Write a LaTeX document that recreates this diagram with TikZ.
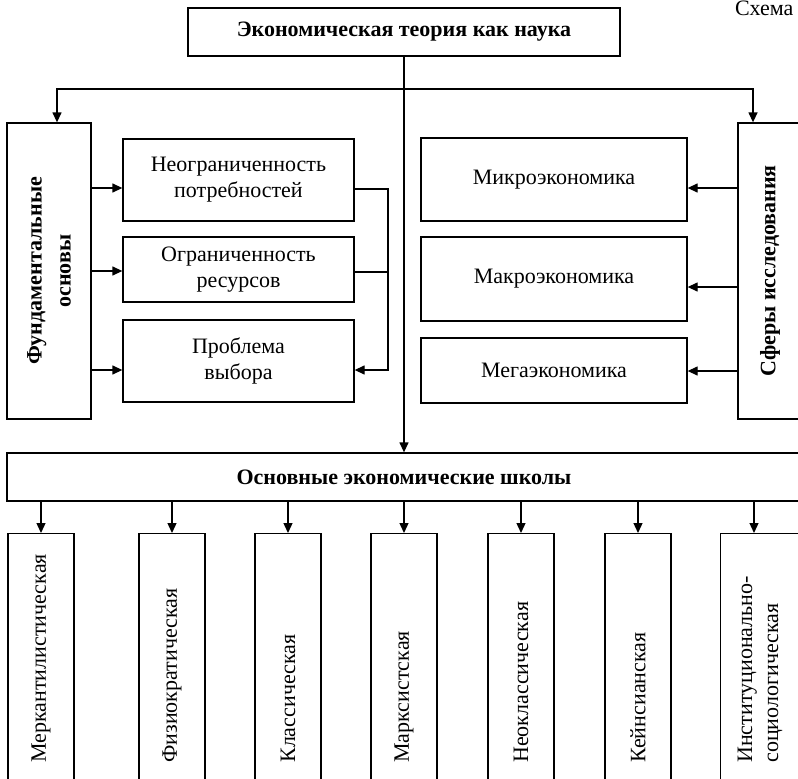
\documentclass[tikz,border=0pt]{standalone}
\usepackage{fontspec}
\setmainfont{Liberation Serif}
\usetikzlibrary{arrows.meta}

\begin{document}
\begin{tikzpicture}[x=1pt,y=-1pt,
  every node/.style={font=\fontsize{22}{26}\selectfont},
  box/.style={draw, line width=1.3pt, align=center, inner sep=0pt},
  bold/.style={font=\fontsize{22}{29}\selectfont\bfseries},
  school/.style={draw, line width=1.3pt, rotate=90, anchor=east, minimum height=66pt,
    text width=191pt, inner xsep=38pt, inner ysep=0pt, align=left},
  arr/.style={line width=1.3pt, -{Triangle[length=10pt,width=9pt]}}]
\path[use as bounding box, fill=white] (0,0) rectangle (798,779);
\clip (0,0) rectangle (798,779);

\node[anchor=base east] (cap) at (797,16) {Схема};
\node[box, bold, minimum width=432pt, minimum height=48pt] (title) at (404,32) {Экономическая теория как наука};

% fundamentals
\node[box, bold, rotate=90, minimum width=296pt, minimum height=84pt] (fund) at (49,271) {Фундаментальные\\основы};
\node[box, minimum width=231pt, minimum height=82pt] (need) at (238.5,180) {Неограниченность\\потребностей};
\node[box, minimum width=231pt, minimum height=65pt] (res) at (238.5,269.5) {Ограниченность\\ресурсов};
\node[box, minimum width=231pt, minimum height=82pt] (choice) at (238.5,361) {Проблема\\выбора};

% spheres
\node[box, bold, rotate=90, minimum width=296pt, minimum height=64pt] (sphere) at (770,271) {Сферы исследования};
\node[box, minimum width=266pt, minimum height=83pt] (micro) at (554,179.5) {Микроэкономика};
\node[box, minimum width=266pt, minimum height=84pt] (macro) at (554,279) {Макроэкономика};
\node[box, minimum width=266pt, minimum height=65pt] (mega) at (554,370.5) {Мегаэкономика};

\node[box, bold, minimum width=794pt, minimum height=48pt] (schools) at (404,477) {Основные экономические школы};

% schools
\node[school] (merc) at (41,533) {Меркантилистическая};
\node[school] (phys) at (172,533) {Физиократическая};
\node[school] (class) at (288,533) {Классическая};
\node[school] (marx) at (404,533) {Марксистская};
\node[school] (neo) at (521,533) {Неоклассическая};
\node[school] (keyn) at (638,533) {Кейнсианская};
\node[school, minimum height=79pt] (inst) at (760,533) {Институционально-\\социологическая};

\coordinate (split) at (404,89);
\draw[arr] (title.south) -- (schools.north);
\draw[arr] (split) -| ([xshift=8pt]fund.east);
\draw[arr] (split) -| ([xshift=-17pt]sphere.east);

\draw[arr] (fund.south |- 0,188) -- (need.west |- 0,188);
\draw[arr] (fund.south |- 0,271) -- (res.west |- 0,271);
\draw[arr] (fund.south |- 0,370) -- (choice.west |- 0,370);
\draw[arr] (need.east |- 0,189) -- (388,189) |- (choice.east |- 0,370);
\draw[line width=1.3pt] (res.east |- 0,272) -- (388,272);

\draw[arr] (sphere.north |- 0,188) -- (micro.east |- 0,188);
\draw[arr] (sphere.north |- 0,287) -- (macro.east |- 0,287);
\draw[arr] (sphere.north |- 0,371) -- (mega.east |- 0,371);

\draw[arr] (schools.south -| merc.east) -- (merc.east);
\draw[arr] (schools.south -| phys.east) -- (phys.east);
\draw[arr] (schools.south -| class.east) -- (class.east);
\draw[arr] (schools.south -| marx.east) -- (marx.east);
\draw[arr] (schools.south -| neo.east) -- (neo.east);
\draw[arr] (schools.south -| keyn.east) -- (keyn.east);
\draw[arr] (schools.south -| 754,0) -- (754,533);

\end{tikzpicture}
\end{document}
